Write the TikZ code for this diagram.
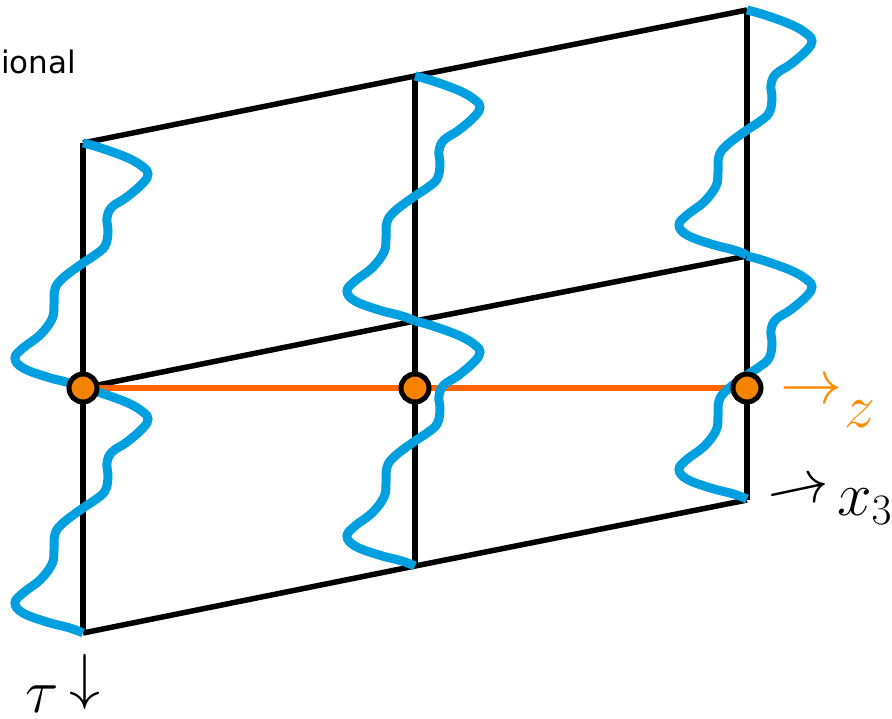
\documentclass[tikz,border=0pt]{standalone}
\usepackage{fix-cm}
\usepackage{fontspec}
\newfontfamily\sansfam{DejaVu Sans}
\definecolor{wblue}{RGB}{0,160,224}
\definecolor{dotorange}{RGB}{245,130,0}
\definecolor{lineorange}{RGB}{255,102,0}
\definecolor{labelorange}{RGB}{255,140,0}
\tikzset{
  gridline/.style={line width=5.5pt, black},
  wavecurve/.style={line width=9pt, wblue},
  zline/.style={line width=5.5pt, lineorange},
  dotnode/.style={circle, draw=black, line width=5pt, fill=dotorange, minimum size=28pt, inner sep=0pt},
  biglabel/.style={inner sep=0pt, font=\fontsize{62}{74}\selectfont},
}
\newcommand\wavehalf[3]{%
  \draw[wavecurve, shift={(#1,#2)}, yscale=#3] plot[smooth, tension=0.65] coordinates {
    (0,0) (18,5) (45,15) (60,24) (65,31) (60,40) (44,54) (29,64) (24,75) (25,89)
    (22,103) (12,112) (0,120) (-20,135) (-28,146) (-29,162) (-31,176) (-43,192)
    (-60,205) (-68,215) (-60,225) (-36,234) (-13,240) (0,245)};}
\begin{document}
\begin{tikzpicture}[x=1pt, y=-1pt]
\useasboundingbox (0,0) rectangle (892,718);
% grid corners
\coordinate (lt) at (83,143);  \coordinate (lm) at (83,388);  \coordinate (lb) at (83,633);
\coordinate (mt) at (415,76);  \coordinate (mm) at (415,321); \coordinate (mb) at (415,566);
\coordinate (rt) at (747,10);  \coordinate (rm) at (747,256); \coordinate (rb) at (747,500);
\coordinate (mz) at (415,388); \coordinate (rz) at (747,388);
% grid
\draw[gridline] (lt) -- (mt) -- (rt);
\draw[gridline] (lm) -- (mm) -- (rm);
\draw[gridline] (lb) -- (mb) -- (rb);
\draw[gridline] (lt) -- (lb);
\draw[gridline] (mt) -- (mb);
\draw[gridline] (rt) -- (rb);
% orange z line
\draw[zline] (lm) -- (rz);
% waves
\wavehalf{83}{143}{1}
\wavehalf{83}{388}{1}
\wavehalf{415}{76}{1}
\wavehalf{415}{321}{1}
\wavehalf{747}{10}{1}
\wavehalf{747}{256}{0.992}
% dots
\node[dotnode] (d1) at (lm) {};
\node[dotnode] (d2) at (mz) {};
\node[dotnode] (d3) at (rz) {};
% labels
\node[biglabel, text=labelorange, anchor=base] (zarrow) at (811,403.5) {$\rightarrow$};
\node[biglabel, text=labelorange, anchor=base west] (zlab) at (844,427) {$z$};
\node[biglabel, rotate=12, anchor=center] (xarrow) at (799,494) {$\rightarrow$};
\node[biglabel, anchor=base west] (xlab) at (837,515) {$x_3$};
\node[biglabel, anchor=base west] (taulab) at (25,712) {$\tau$};
\node[biglabel, anchor=center] (tauarrow) at (85,682) {$\downarrow$};
\node[inner sep=0pt, anchor=base west, font=\sansfam\fontsize{31}{36}\selectfont] (toptext) at (1,73) {ional};
\end{tikzpicture}
\end{document}
